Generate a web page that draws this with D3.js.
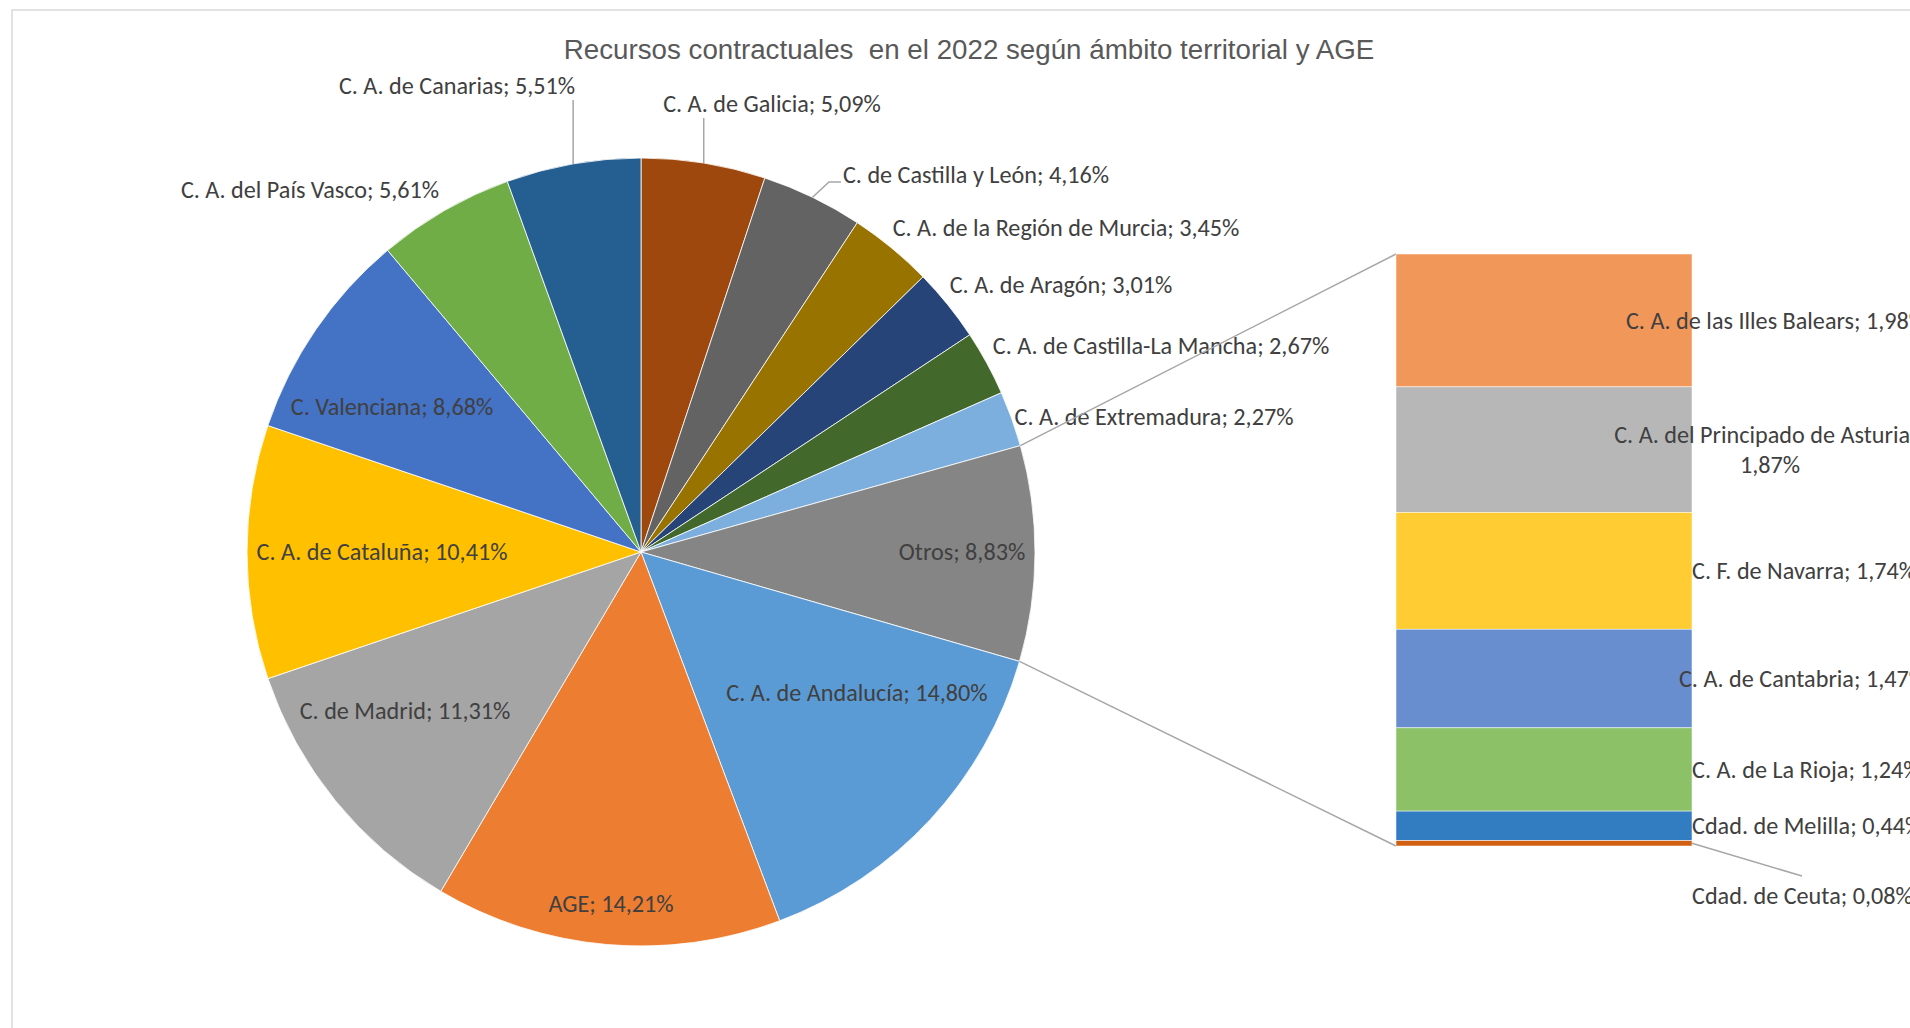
<!DOCTYPE html>
<html>
<head>
<meta charset="utf-8">
<script src="https://cdn.jsdelivr.net/npm/d3@7"></script>
<style>
  body { margin: 0; background: #fff; overflow: hidden; }
</style>
</head>
<body>
<script>
var width = 1910,
    height = 1028;

var title = "Recursos contractuales  en el 2022 según ámbito territorial y AGE";

// main pie, clockwise from 12 o'clock
var pieNames = ["C. A. de Galicia", "C. de Castilla y León", "C. A. de la Región de Murcia",
  "C. A. de Aragón", "C. A. de Castilla-La Mancha", "C. A. de Extremadura", "Otros",
  "C. A. de Andalucía", "AGE", "C. de Madrid", "C. A. de Cataluña", "C. Valenciana",
  "C. A. del País Vasco", "C. A. de Canarias"];
var pieValues = [5.09, 4.16, 3.45, 3.01, 2.67, 2.27, 8.83, 14.80, 14.21, 11.31, 10.41, 8.68, 5.61, 5.51];
var pieColors = ["#9e480e", "#636363", "#997300", "#264478", "#43682b", "#7cafdd", "#858585",
  "#5b9bd5", "#ed7d31", "#a5a5a5", "#ffc000", "#4472c4", "#70ad47", "#255e91"];

// breakdown of "Otros", top to bottom
var barNames = ["C. A. de las Illes Balears", "C. A. del Principado de Asturias", "C. F. de Navarra",
  "C. A. de Cantabria", "C. A. de La Rioja", "Cdad. de Melilla", "Cdad. de Ceuta"];
var barValues = [1.98, 1.87, 1.74, 1.47, 1.24, 0.44, 0.08];
var barColors = ["#f1975a", "#b7b7b7", "#ffcd33", "#698ed0", "#8cc168", "#327dc2", "#d26012"];

// layout
var cx = 641, cy = 552, radius = 394;
var barLeft = 1396, barRight = 1692, barTop = 254, barBottom = 846;
var labelLimit = 1926;
var labelFont = "Carlito, Calibri, Lato, sans-serif",
    titleFont = "'Liberation Sans', Arial, sans-serif";

// label centres for the pie (Excel best-fit placement)
var pieLabelPos = {
  "C. A. de Galicia": [772, 104],
  "C. de Castilla y León": [976, 175],
  "C. A. de la Región de Murcia": [1066, 228],
  "C. A. de Aragón": [1061, 285],
  "C. A. de Castilla-La Mancha": [1161, 346],
  "C. A. de Extremadura": [1154, 417],
  "Otros": [962, 552],
  "C. A. de Andalucía": [857, 693],
  "AGE": [611, 904],
  "C. de Madrid": [405, 711],
  "C. A. de Cataluña": [382, 552],
  "C. Valenciana": [392, 407],
  "C. A. del País Vasco": [310, 190],
  "C. A. de Canarias": [457, 86]
};

var es = d3.formatLocale({decimal: ",", thousands: ".", grouping: [3], currency: ["", " €"]});
var pct = function(v) { return es.format(".2f")(v) + "%"; };

var svg = d3.select("body").append("svg")
    .attr("width", width)
    .attr("height", height);

function fitFont(family, sample, target) {
  var t = svg.append("text")
      .style("font-family", family)
      .style("font-size", "100px")
      .style("white-space", "pre")
      .text(sample);
  var w = t.node().getComputedTextLength();
  t.remove();
  return 100 * target / w;
}

var labelSize = fitFont(labelFont, "C. A. de Extremadura; 2,27%", 279);
var titleSize = fitFont(titleFont, title, 811);

svg.append("rect")
    .attr("x", 12)
    .attr("y", 10)
    .attr("width", width + 20)
    .attr("height", height + 20)
    .attr("fill", "#fff")
    .attr("stroke", "#d9d9d9")
    .attr("stroke-width", 1.5);

svg.append("text")
    .attr("x", 969)
    .attr("y", 49)
    .attr("dy", "0.36em")
    .attr("text-anchor", "middle")
    .style("font-family", titleFont)
    .style("font-size", titleSize + "px")
    .style("white-space", "pre")
    .attr("fill", "#595959")
    .text(title);

// - - - - PIE - - - -
var pieData = pieNames.map(function(n, i) { return {name: n, value: pieValues[i], color: pieColors[i]}; });

var pie = d3.pie()
    .sort(null)
    .value(function(d) { return d.value; });

var arc = d3.arc()
    .innerRadius(0)
    .outerRadius(radius);

var arcs = pie(pieData);

function edge(a) { return [cx + radius * Math.sin(a), cy - radius * Math.cos(a)]; }

var g = svg.append("g")
    .attr("transform", "translate(" + cx + "," + cy + ")");

g.selectAll("path")
    .data(arcs)
  .enter().append("path")
    .attr("d", arc)
    .attr("fill", function(d) { return d.data.color; })
    .attr("stroke", "#fff")
    .attr("stroke-width", 0.8);

// leader lines for the labels that sit away from the slice
var leaders = {
  "C. A. de Canarias": function(p) { return [p, [p[0], 100]]; },
  "C. A. de Galicia": function(p) { return [p, [p[0], 118]]; },
  "C. de Castilla y León": function(p) { return [p, [829, 182], [841, 182]]; }
};

arcs.forEach(function(d) {
  var f = leaders[d.data.name];
  if (!f) return;
  svg.append("path")
      .attr("d", d3.line()(f(edge((d.startAngle + d.endAngle) / 2))))
      .attr("fill", "none")
      .attr("stroke", "#a6a6a6")
      .attr("stroke-width", 1.5);
});

svg.selectAll("text.pie-label")
    .data(arcs)
  .enter().append("text")
    .attr("class", "pie-label")
    .attr("x", function(d) { return pieLabelPos[d.data.name][0]; })
    .attr("y", function(d) { return pieLabelPos[d.data.name][1]; })
    .attr("dy", "0.35em")
    .attr("text-anchor", "middle")
    .style("font-family", labelFont)
    .style("font-size", labelSize + "px")
    .attr("fill", "#404040")
    .text(function(d) { return d.data.name + "; " + pct(d.data.value); });

// - - - - BAR OF PIE - - - -
var y = d3.scaleLinear()
    .domain([0, d3.sum(barValues)])
    .range([barTop, barBottom]);

var ends = d3.cumsum(barValues);
var barData = barNames.map(function(n, i) {
  return {name: n, value: barValues[i], color: barColors[i], y0: ends[i] - barValues[i], y1: ends[i]};
});

// connectors from the "Otros" slice to the bar
var otros = arcs.filter(function(d) { return d.data.name == "Otros"; })[0];
[[edge(otros.startAngle), [barLeft, y(0)]],
 [edge(otros.endAngle), [barLeft, y(d3.sum(barValues))]]].forEach(function(seg) {
  svg.append("path")
      .attr("d", d3.line()(seg))
      .attr("stroke", "#a6a6a6")
      .attr("stroke-width", 1.5);
});

svg.selectAll("rect.bar")
    .data(barData)
  .enter().append("rect")
    .attr("class", "bar")
    .attr("x", barLeft)
    .attr("width", barRight - barLeft)
    .attr("y", function(d) { return y(d.y0); })
    .attr("height", function(d) { return y(d.y1) - y(d.y0); })
    .attr("fill", function(d) { return d.color; })
    .attr("stroke", "#fff")
    .attr("stroke-width", 0.5);

barData.forEach(function(d) {
  var mid = (y(d.y0) + y(d.y1)) / 2;
  var t = svg.append("text")
      .style("font-family", labelFont)
      .style("font-size", labelSize + "px")
      .attr("fill", "#404040");
  var full = d.name + "; " + pct(d.value);
  t.text(full);
  var w = t.node().getComputedTextLength();
  if (w > 340) {
    // too wide: wrap name and value on two lines, centred
    t.text(null);
    t.append("tspan").text(d.name + ";");
    var w1 = t.node().getComputedTextLength();
    var cxText = Math.min(barRight, labelLimit - w1) + w1 / 2;
    t.attr("text-anchor", "middle");
    t.select("tspan").attr("x", cxText).attr("y", mid - 15).attr("dy", "0.35em");
    t.append("tspan").attr("x", cxText).attr("y", mid + 15).attr("dy", "0.35em").text(pct(d.value));
    return;
  }
  var ty = mid;
  if (y(d.y1) - y(d.y0) < 12) {
    // sliver: push label below with a leader line
    ty = y(d.y1) + 50;
    svg.append("path")
        .attr("d", d3.line()([[barRight, mid], [barRight + 110, ty - 20]]))
        .attr("stroke", "#a6a6a6")
        .attr("stroke-width", 1.5);
  }
  t.attr("x", Math.min(barRight, labelLimit - w))
      .attr("y", ty)
      .attr("dy", "0.35em");
});
</script>
</body>
</html>
